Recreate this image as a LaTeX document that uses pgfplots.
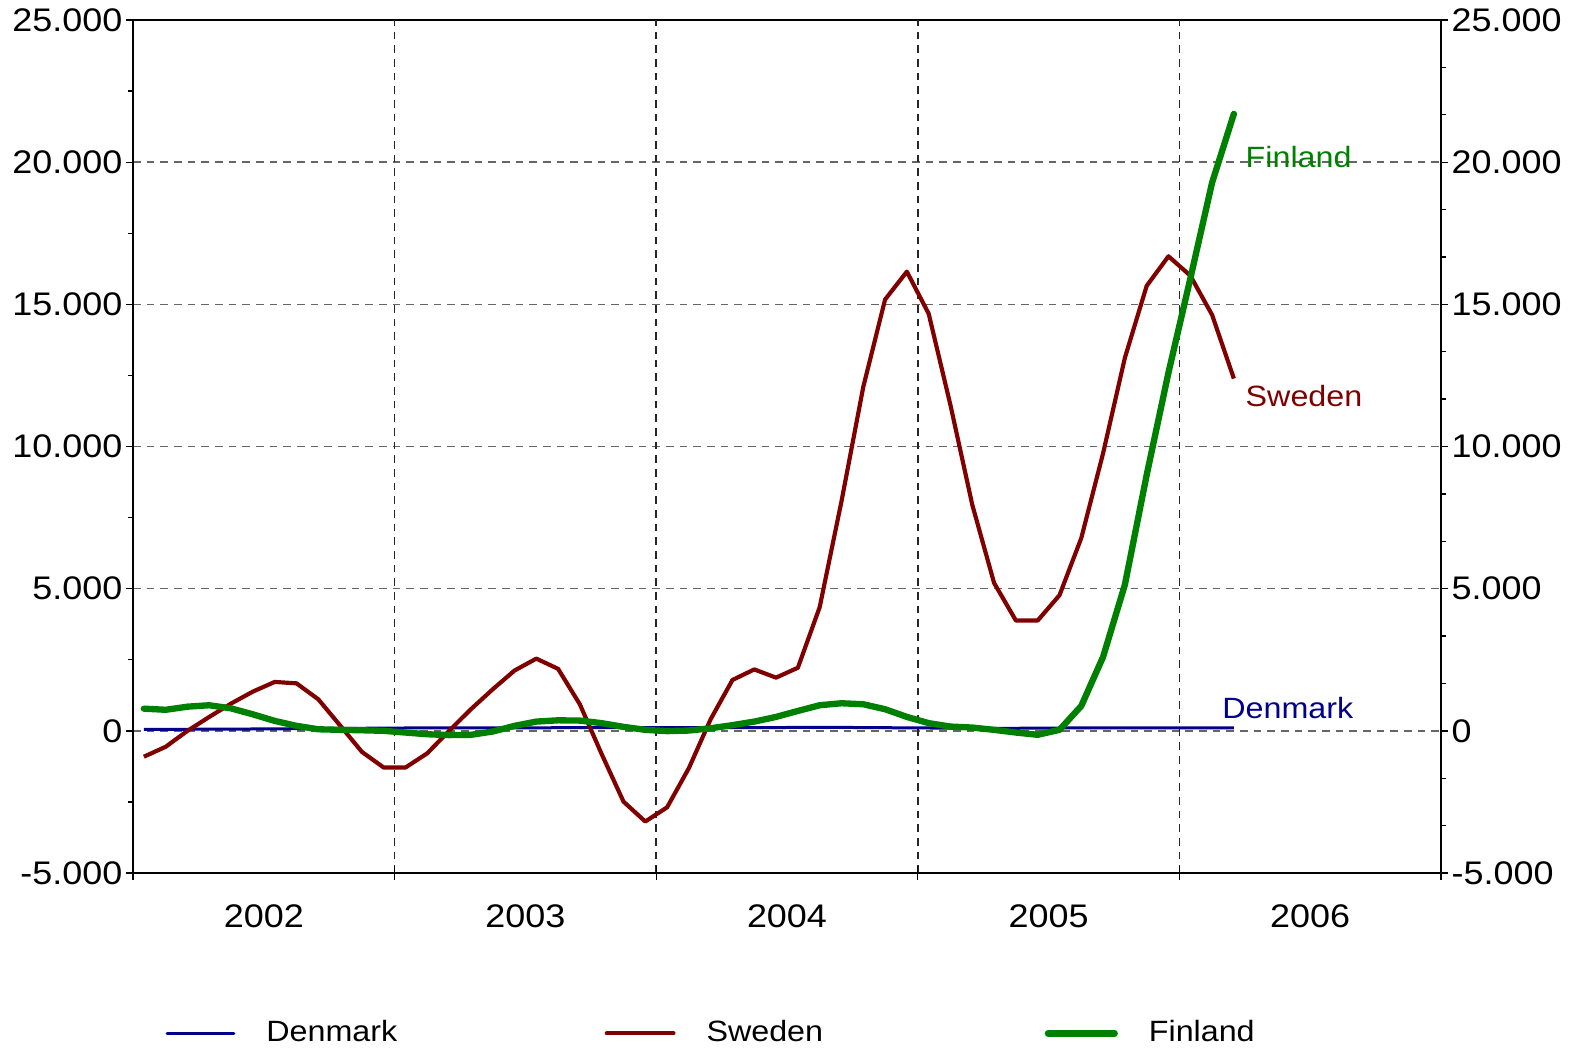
\documentclass[border=0pt]{standalone}
\usepackage{fontspec}
\setmainfont{Liberation Sans}[FakeStretch=1.1]
\usepackage{pgfplots}
\usepackage{pgfplotstable}
\pgfplotsset{compat=1.18}
\definecolor{dkc}{RGB}{0,0,139}
\definecolor{sec}{RGB}{128,0,0}
\definecolor{fic}{RGB}{0,128,0}
\newcommand\tickfont{\fontsize{9.8}{11}\selectfont}
\newcommand\labfont{\fontsize{8.8}{10}\selectfont}

\pgfplotstableread{
date dk se fi
2002.0417 50 -910 780
2002.1250 50 -560 740
2002.2083 55 0 850
2002.2917 60 490 900
2002.3750 60 960 790
2002.4583 65 1380 580
2002.5417 70 1720 350
2002.6250 75 1670 175
2002.7083 80 1110 55
2002.7917 85 190 35
2002.8750 90 -740 20
2002.9583 95 -1290 0
2003.0417 100 -1290 -60
2003.1250 100 -790 -120
2003.2083 100 0 -150
2003.2917 100 760 -140
2003.3750 100 1460 -25
2003.4583 105 2120 175
2003.5417 105 2540 325
2003.6250 110 2180 370
2003.7083 110 930 360
2003.7917 110 -820 270
2003.8750 110 -2490 140
2003.9583 110 -3190 35
2004.0417 110 -2690 -10
2004.1250 110 -1310 10
2004.2083 110 410 90
2004.2917 115 1790 200
2004.3750 115 2160 325
2004.4583 115 1870 490
2004.5417 120 2220 700
2004.6250 120 4350 900
2004.7083 120 8070 970
2004.7917 115 12100 935
2004.8750 110 15170 760
2004.9583 105 16150 490
2005.0417 100 14670 270
2005.1250 95 11450 150
2005.2083 90 7950 115
2005.2917 90 5200 35
2005.3750 90 3880 -60
2005.4583 95 3880 -140
2005.5417 100 4770 35
2005.6250 100 6780 875
2005.7083 100 9760 2600
2005.7917 100 13120 5140
2005.8750 100 15650 9000
2005.9583 100 16690 12600
2006.0417 100 16010 15900
2006.1250 100 14630 19280
2006.2083 100 12390 21700
}\data

\pgfplotsset{
  base/.style={
    scale only axis, width=392.4pt, height=255.9pt,
    xmin=2002, xmax=2007, ymin=-5000, ymax=25000,
    scaled y ticks=false,
    axis line style={line width=0.5pt},
    every tick/.style={black, line width=0.4pt},
    /pgf/number format/.cd, fixed, 1000 sep={.}, assume math mode=true,
  },
}

\begin{document}
\begin{tikzpicture}
% main axis
\begin{axis}[base,
  ytick={-5000,0,5000,10000,15000,20000,25000},
  ytick pos=left,
  minor y tick num=1,
  tick align=outside,
  major tick length=2pt,
  minor tick length=1.5pt,
  ymajorgrids=true,
  xtick={2002.5,2003.5,2004.5,2005.5,2006.5},
  xticklabels={2002,2003,2004,2005,2006},
  xtick style={draw=none},
  xtick pos=bottom,
  extra x ticks={2003,2004,2005,2006},
  extra x tick labels={},
  extra x tick style={xmajorgrids=true, major grid style={black!85, line width=0.45pt, dash pattern=on 2.3pt off 1.8pt}},
  major grid style={black!60, line width=0.45pt, dash pattern=on 2.3pt off 1.8pt},
  yticklabel style={font=\tickfont, inner sep=1pt},
  xticklabel style={font=\tickfont, yshift=-4pt},
  legend columns=3,
  legend style={draw=none, fill=none, at={(0.0245,-0.188)}, anchor=west,
    inner sep=0pt, font=\labfont,
    nodes={inner sep=0pt},
    /tikz/every odd column/.append style={column sep=9.3pt},
    /tikz/every even column/.append style={column sep=61.5pt}},
  legend image code/.code={\draw[#1, line cap=round] (0pt,0pt) -- (20pt,0pt);},
]
\addplot[dkc, line width=0.9pt] table[x=date, y=dk] {\data};
\addlegendentry{\makebox[40pt][l]{Denmark}}
\addplot[sec, line width=1.25pt, line join=round] table[x=date, y=se] {\data};
\addlegendentry{\makebox[40pt][l]{Sweden}}
\addplot[fic, line width=1.9pt, line join=round, line cap=round] table[x=date, y=fi] {\data};
\addlegendentry{\makebox[40pt][l]{Finland}}
\node[anchor=west, inner sep=0pt, text=fic, font=\labfont] at (axis cs:2006.251,20190) {Finland};
\node[anchor=west, inner sep=0pt, text=sec, font=\labfont] at (axis cs:2006.251,11774) {Sweden};
\node[anchor=west, inner sep=0pt, text=dkc, font=\labfont] at (axis cs:2006.162,817) {Denmark};
\end{axis}
% right y axis
\begin{axis}[base,
  axis x line=none,
  axis y line*=right,
  ytick={-5000,0,5000,10000,15000,20000,25000},
  minor y tick num=2,
  tick align=outside,
  major tick length=2pt,
  minor tick length=1.5pt,
  yticklabel pos=right,
  yticklabel style={font=\tickfont, inner sep=1pt},
]
\end{axis}
% x ticks at year boundaries
\begin{axis}[base,
  axis y line=none,
  axis x line*=bottom,
  xtick={2002,2003,2004,2005,2006,2007},
  xticklabels={},
  tick align=center,
  major tick length=4pt,
]
\end{axis}
\pgfresetboundingbox
\useasboundingbox (-39.9pt,-54.6pt) rectangle (432.3pt,261.9pt);
\end{tikzpicture}
\end{document}
